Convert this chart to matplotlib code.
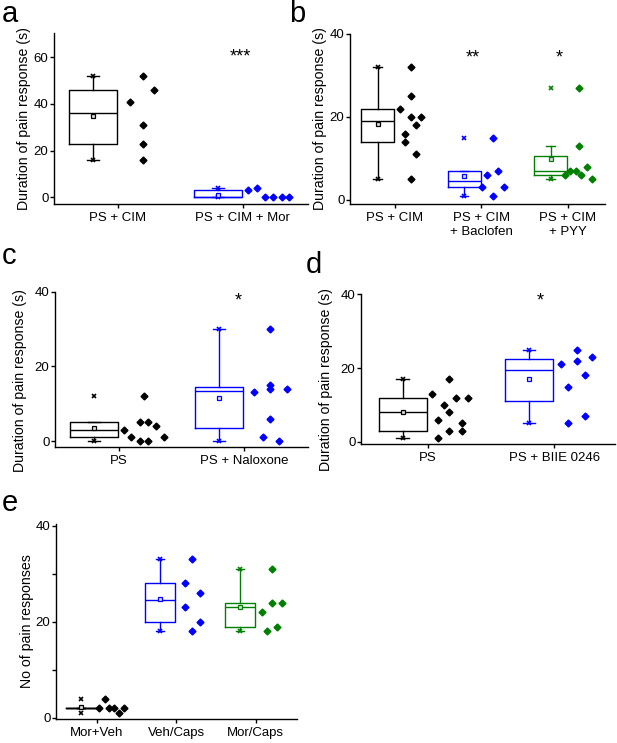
import numpy as np
import matplotlib
matplotlib.use('Agg')
import matplotlib.pyplot as plt

plt.rcParams['font.family'] = ['Liberation Sans', 'DejaVu Sans']
plt.rcParams['font.size'] = 9.5

BLACK, BLUE, GREEN = '#000000', '#0000ff', '#008000'

# ---------------- data ----------------
# panel a
a_labels = ['PS + CIM', 'PS + CIM + Mor']
a_vals = [[41, 52, 31, 23, 16, 46], [3, 4, 0, 0, 0, 0]]
a_q1 = [23, 0]
a_med = [36, 0]
a_q3 = [46, 3]
a_lo = [16, 0]
a_hi = [52, 4]
a_stars = ['', '***']

# panel b
b_labels = ['PS + CIM', 'PS + CIM\n+ Baclofen', 'PS + CIM\n+ PYY']
b_vals = [[22, 16, 14, 32, 25, 20, 5, 18, 11, 20],
          [3, 6, 15, 1, 7, 3],
          [6, 7, 7, 13, 27, 6, 8, 5]]
b_q1 = [14, 3, 6]
b_med = [19, 4.5, 7]
b_q3 = [22, 7, 10.5]
b_lo = [5, 1, 5]
b_hi = [32, 7, 13]
b_stars = ['', '**', '*']

# panel c
c_labels = ['PS', 'PS + Naloxone']
c_vals = [[3, 1, 5, 0, 12, 5, 0, 4, 1], [13, 1, 30, 15, 14, 6, 0, 14]]
c_q1 = [1, 3.5]
c_med = [3, 13.5]
c_q3 = [5, 14.5]
c_lo = [0, 0]
c_hi = [5, 30]
c_stars = ['', '*']

# panel d
d_labels = ['PS', 'PS + BIIE 0246']
d_vals = [[13, 6, 1, 10, 17, 8, 3, 12, 5, 3, 12], [21, 15, 5, 25, 22, 18, 7, 23]]
d_q1 = [3, 11]
d_med = [8, 19.5]
d_q3 = [12, 22.5]
d_lo = [1, 5]
d_hi = [17, 25]
d_stars = ['', '*']

# panel e
e_labels = ['Mor+Veh', 'Veh/Caps', 'Mor/Caps']
e_vals = [[2, 4, 2, 2, 1, 2], [28, 23, 33, 18, 26, 20], [22, 18, 31, 24, 19, 24]]
e_q1 = [2, 20, 19]
e_med = [2, 24.5, 23]
e_q3 = [2, 28, 24]
e_lo = [2, 18, 18]
e_hi = [2, 33, 31]
e_stars = ['', '', '']

# ---------------- layout / style (positions, not data) ----------------
a_jit = [[0.1, 0.2, 0.2, 0.2, 0.2, 0.29], [0.04, 0.11, 0.18, 0.24, 0.31, 0.37]]
b_jit = [[0.06, 0.12, 0.12, 0.18, 0.18, 0.18, 0.18, 0.24, 0.24, 0.30],
         [0.01, 0.07, 0.13, 0.13, 0.19, 0.26],
         [-0.03, 0.03, 0.09, 0.13, 0.13, 0.15, 0.22, 0.28]]
c_jit = [[0.04, 0.10, 0.17, 0.17, 0.2, 0.23, 0.23, 0.30, 0.36],
         [0.08, 0.15, 0.21, 0.21, 0.21, 0.21, 0.28, 0.34]]
d_jit = [[0.03, 0.08, 0.08, 0.13, 0.17, 0.17, 0.17, 0.22, 0.27, 0.27, 0.32],
         [0.05, 0.11, 0.11, 0.18, 0.18, 0.24, 0.24, 0.3]]
e_jit = [[0.03, 0.1, 0.16, 0.22, 0.28, 0.35],
         [0.11, 0.11, 0.2, 0.2, 0.3, 0.3],
         [0.08, 0.14, 0.2, 0.2, 0.27, 0.33]]

W, H = 617, 743
fig = plt.figure(figsize=(W / 100, H / 100), dpi=100)


def axes_px(left, top, right, bottom):
    return fig.add_axes([left / W, 1 - bottom / H, (right - left) / W, (bottom - top) / H])


def panel(ax, labels, vals, jit, q1, med, q3, lo, hi, colors, stars, star_y,
          star_dx, ylim, yticks, yticklabels, xlim, ylabel, ylab_xy):
    pos = np.arange(len(labels))
    for i, v in enumerate(vals):
        col = colors[i]
        st = dict(med=med[i], q1=q1[i], q3=q3[i], whislo=lo[i], whishi=hi[i],
                  mean=float(np.mean(v)), fliers=[])
        ax.bxp([st], positions=[pos[i] - 0.2], widths=0.38, capwidths=[0.1],
               showmeans=True, showfliers=False, manage_ticks=False,
               boxprops=dict(color=col, lw=1.0),
               whiskerprops=dict(color=col, lw=1.0),
               capprops=dict(color=col, lw=1.0),
               medianprops=dict(color=col, lw=1.0),
               meanprops=dict(marker='s', markersize=2.3, markerfacecolor='#dddddd',
                              markeredgecolor=col, markeredgewidth=0.9))
        ax.plot([pos[i] - 0.2, pos[i] - 0.2], [np.min(v), np.max(v)], ls='none',
                marker='x', ms=3, mew=1.2, color=col)
        ax.plot(pos[i] + np.array(jit[i]), v, ls='none', marker='D', ms=3.5,
                color=col, mec=col)
        if stars[i]:
            ax.text(pos[i] + star_dx, star_y, stars[i], ha='center', va='baseline',
                    fontsize=13)
    ax.set_xlim(*xlim)
    ax.set_ylim(*ylim)
    ax.set_xticks(pos)
    ax.set_xticklabels(labels)
    ax.set_yticks(yticks)
    ax.set_yticklabels(yticklabels)
    for s in ['top', 'right']:
        ax.spines[s].set_visible(False)
    for s in ['left', 'bottom']:
        ax.spines[s].set_linewidth(1.0)
    ax.tick_params(axis='both', direction='out', length=3, width=1.0, labelsize=9.5)
    ax.tick_params(axis='y', pad=1)
    ax.tick_params(axis='x', pad=3)
    ax.text(ylab_xy[0], ylab_xy[1], ylabel, transform=ax.transAxes, rotation=90,
            ha='center', va='center', fontsize=10.2)


# panel a
axa = axes_px(54, 33, 308, 204)
panel(axa, a_labels, a_vals, a_jit, a_q1, a_med, a_q3, a_lo, a_hi, [BLACK, BLUE],
      a_stars, 58.0, -0.02, (-2.9, 70.4), [0, 20, 40, 60], ['0', '20', '40', '60'],
      (-0.51, 1.52), 'Duration of pain response (s)', (-0.118, 0.5))

# panel b
axb = axes_px(350, 34, 605, 204)
panel(axb, b_labels, b_vals, b_jit, b_q1, b_med, b_q3, b_lo, b_hi, [BLACK, BLUE, GREEN],
      b_stars, 33.2, -0.1, (-1.0, 40), [0, 20, 40], ['0', '20', '40'],
      (-0.52, 2.43), 'Duration of pain response (s)', (-0.118, 0.5))

# panel c
axc = axes_px(55, 291.7, 308, 447)
panel(axc, c_labels, c_vals, c_jit, c_q1, c_med, c_q3, c_lo, c_hi, [BLACK, BLUE],
      c_stars, 36.3, -0.05, (-1.6, 40), [0, 20, 40], ['0', '20', '40'],
      (-0.51, 1.51), 'Duration of pain response (s)', (-0.138, 0.43))

# panel d
axd = axes_px(361, 294.3, 615, 443.7)
panel(axd, d_labels, d_vals, d_jit, d_q1, d_med, d_q3, d_lo, d_hi, [BLACK, BLUE],
      d_stars, 36.9, -0.11, (-0.5, 40), [0, 20, 40], ['0', '20', '40'],
      (-0.53, 1.48), 'Duration of pain response (s)', (-0.138, 0.426))

# panel e
axe = axes_px(56, 524, 297, 718.7)
panel(axe, e_labels, e_vals, e_jit, e_q1, e_med, e_q3, e_lo, e_hi, [BLACK, BLUE, GREEN],
      e_stars, 0, 0, (-0.2, 40.4), [0, 10, 20, 30, 40], ['0', '', '20', '', '40'],
      (-0.51, 2.52), 'No of pain responses', (-0.12, 0.5))

# panel letters
for letter, x, y in [('a', 2, 22), ('b', 289, 22), ('c', 2, 264), ('d', 306, 273), ('e', 2, 511)]:
    fig.text(x / W, 1 - y / H, letter, fontsize=21, ha='left', va='baseline')

fig.savefig('out.png', dpi=100)
